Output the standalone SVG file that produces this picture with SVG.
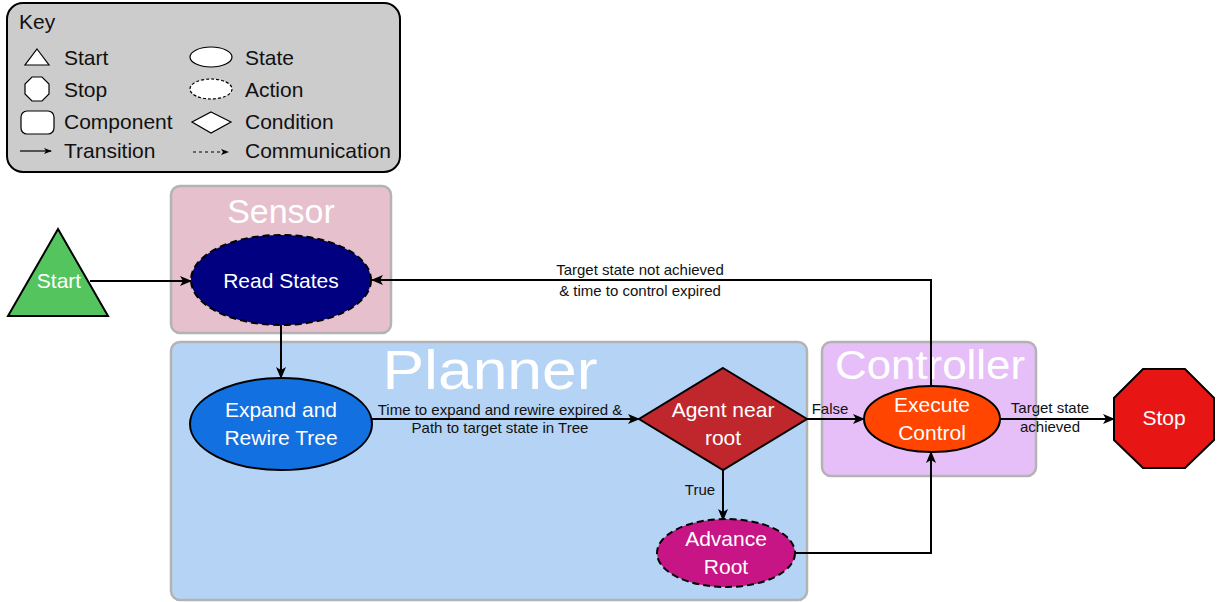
<svg xmlns="http://www.w3.org/2000/svg" width="1222" height="602" viewBox="0 0 1222 602">
  <style>
    text { font-family: "Liberation Sans", Arial, sans-serif; }
    .key { font-size: 21px; fill: #111; }
    .node { font-size: 21px; fill: #fff; text-anchor: middle; }
    .title { fill: #fff; text-anchor: middle; }
    .lbl { font-size: 15px; fill: #111; text-anchor: middle; }
    .edge { fill: none; stroke: #000; stroke-width: 2; }
    .comp { stroke: #b3b3b3; stroke-width: 2.5; }
    .ol { stroke: #000; stroke-width: 2; }
    .dash { stroke: #000; stroke-width: 2; stroke-dasharray: 7 4; }
  </style>
  <defs>
    <marker id="arr" markerWidth="12" markerHeight="10" refX="11" refY="5" orient="auto" markerUnits="userSpaceOnUse">
      <path d="M0,0 L12,5 L0,10 L3,5 Z" fill="#000"/>
    </marker>
    <marker id="arrs" markerWidth="8" markerHeight="6" refX="7" refY="3" orient="auto" markerUnits="userSpaceOnUse">
      <path d="M0,0 L8,3 L0,6 L2,3 Z" fill="#000"/>
    </marker>
  </defs>

  <!-- legend -->
  <g id="legend">
    <rect x="7" y="3" width="393" height="169" rx="16" fill="#cccccc" stroke="#000" stroke-width="2"/>
    <text class="key" x="19" y="29" font-size="22">Key</text>
    <polygon points="37,49 49,65 25,65" fill="#fff" stroke="#000" stroke-width="1.2"/>
    <text class="key" x="64" y="65">Start</text>
    <polygon points="32,77 42,77 49,84 49,94 42,101 32,101 25,94 25,84" fill="#fff" stroke="#000" stroke-width="1.2"/>
    <text class="key" x="64" y="97">Stop</text>
    <rect x="21" y="111" width="33" height="23" rx="6" fill="#fff" stroke="#000" stroke-width="1.2"/>
    <text class="key" x="64" y="129">Component</text>
    <line x1="20" y1="151" x2="51" y2="151" stroke="#000" stroke-width="1.2" marker-end="url(#arrs)"/>
    <text class="key" x="64" y="158">Transition</text>
    <ellipse cx="211" cy="57" rx="21" ry="10" fill="#fff" stroke="#000" stroke-width="1.2"/>
    <text class="key" x="245" y="65">State</text>
    <ellipse cx="211" cy="89" rx="21" ry="10" fill="#fff" stroke="#000" stroke-width="1.2" stroke-dasharray="3 2"/>
    <text class="key" x="245" y="97">Action</text>
    <polygon points="211,112 231,122 211,133 192,122" fill="#fff" stroke="#000" stroke-width="1.2"/>
    <text class="key" x="245" y="129">Condition</text>
    <line x1="193" y1="152" x2="228" y2="152" stroke="#000" stroke-width="1.2" stroke-dasharray="3 3" marker-end="url(#arrs)"/>
    <text class="key" x="245" y="158">Communication</text>
  </g>

  <!-- component containers -->
  <g id="sensor">
    <rect class="comp" x="171" y="186" width="220" height="147" rx="9" fill="#e6c0cc"/>
    <text class="title" x="281" y="223" font-size="34">Sensor</text>
  </g>
  <g id="planner">
    <rect class="comp" x="171" y="342" width="636" height="258" rx="9" fill="#b5d4f5"/>
    <text class="title" x="490" y="389" font-size="56" textLength="215" lengthAdjust="spacingAndGlyphs">Planner</text>
  </g>
  <g id="controller">
    <rect class="comp" x="822" y="342" width="214" height="134" rx="9" fill="#e7bff8"/>
    <text class="title" x="930" y="379" font-size="40" textLength="190" lengthAdjust="spacingAndGlyphs">Controller</text>
  </g>

  <!-- connectors -->
  <g id="connectors">
    <path class="edge" d="M90,281 H191" marker-end="url(#arr)"/>
    <path class="edge" d="M281,325 V378" marker-end="url(#arr)"/>
    <path class="edge" d="M372,419 H639" marker-end="url(#arr)"/>
    <path class="edge" d="M807,419 H864" marker-end="url(#arr)"/>
    <path class="edge" d="M723,470 V520" marker-end="url(#arr)"/>
    <path class="edge" d="M795,553 H931 V452" marker-end="url(#arr)"/>
    <path class="edge" d="M931,386 V280 H372" marker-end="url(#arr)"/>
    <path class="edge" d="M1001,419 H1114" marker-end="url(#arr)"/>
    <text class="lbl" x="500" y="415">Time to expand and rewire expired &amp;</text>
    <text class="lbl" x="500" y="433">Path to target state in Tree</text>
    <text class="lbl" x="830" y="414">False</text>
    <text class="lbl" x="700" y="495">True</text>
    <text class="lbl" x="640" y="275">Target state not achieved</text>
    <text class="lbl" x="640" y="296">&amp; time to control expired</text>
    <text class="lbl" x="1050" y="413">Target state</text>
    <text class="lbl" x="1050" y="432">achieved</text>
  </g>

  <!-- nodes -->
  <g id="start">
    <polygon class="ol" points="58,229 108,316 8,316" fill="#54c45e"/>
    <text class="node" x="59" y="288" font-size="22">Start</text>
  </g>
  <g id="read-states">
    <ellipse class="dash" cx="281" cy="280" rx="90" ry="45" fill="#000080"/>
    <text class="node" x="281" y="288">Read States</text>
  </g>
  <g id="expand-rewire">
    <ellipse class="ol" cx="281" cy="424" rx="91" ry="46" fill="#1270e0"/>
    <text class="node" x="281" y="417" font-size="22">Expand and</text>
    <text class="node" x="281" y="445" font-size="22">Rewire Tree</text>
  </g>
  <g id="agent-near-root">
    <polygon class="ol" points="723,368 807,419 723,470 639,419" fill="#c0272d" stroke-width="1.5"/>
    <text class="node" x="723" y="417">Agent near</text>
    <text class="node" x="723" y="445">root</text>
  </g>
  <g id="advance-root">
    <ellipse class="dash" cx="726" cy="553" rx="69" ry="34" fill="#c71585"/>
    <text class="node" x="726" y="546">Advance</text>
    <text class="node" x="726" y="574">Root</text>
  </g>
  <g id="execute-control">
    <ellipse class="ol" cx="932" cy="419" rx="68" ry="33" fill="#ff4500"/>
    <text class="node" x="932" y="412">Execute</text>
    <text class="node" x="932" y="440">Control</text>
  </g>
  <g id="stop">
    <polygon class="ol" points="1143,369 1185,369 1214,398 1214,440 1185,468 1143,468 1114,440 1114,398" fill="#e81515"/>
    <text class="node" x="1164" y="425">Stop</text>
  </g>
</svg>
